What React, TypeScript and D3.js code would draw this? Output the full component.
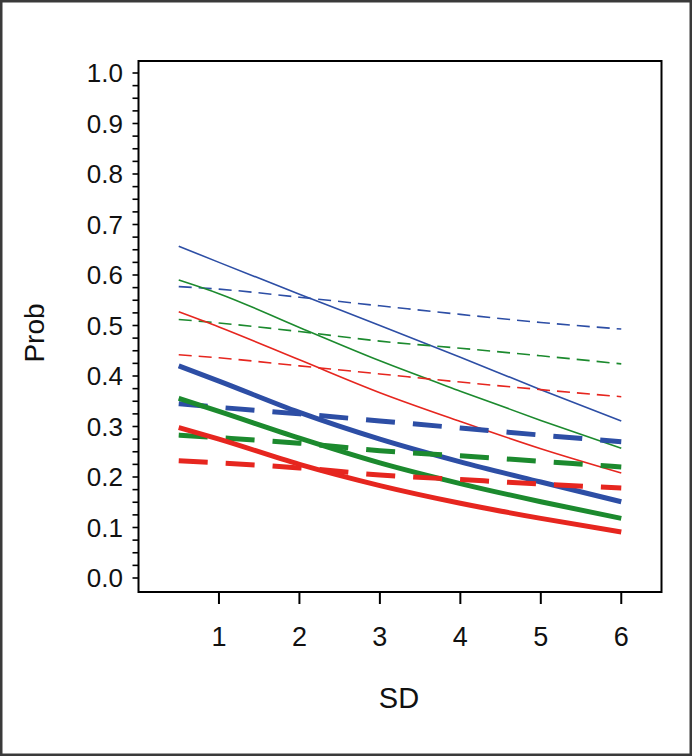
import React from "react";
import * as d3 from "d3";

const sdValues = [0.5, 1, 2, 3, 4, 5, 6];

// thin lines
const blueThinSolid = [0.657, 0.625, 0.562, 0.5, 0.437, 0.373, 0.311];
const blueThinDash = [0.577, 0.572, 0.556, 0.539, 0.522, 0.506, 0.493];
const greenThinSolid = [0.59, 0.563, 0.496, 0.43, 0.37, 0.312, 0.257];
const greenThinDash = [0.512, 0.505, 0.488, 0.469, 0.455, 0.44, 0.424];
const redThinSolid = [0.527, 0.497, 0.432, 0.367, 0.31, 0.256, 0.208];
const redThinDash = [0.442, 0.436, 0.42, 0.404, 0.388, 0.373, 0.359];

// thick lines
const blueThickSolid = [0.42, 0.39, 0.328, 0.275, 0.23, 0.19, 0.151];
const blueThickDash = [0.345, 0.338, 0.325, 0.311, 0.297, 0.283, 0.27];
const greenThickSolid = [0.356, 0.33, 0.277, 0.228, 0.187, 0.151, 0.118];
const greenThickDash = [0.283, 0.278, 0.267, 0.252, 0.242, 0.231, 0.22];
const redThickSolid = [0.298, 0.275, 0.225, 0.183, 0.148, 0.118, 0.091];
const redThickDash = [0.232, 0.228, 0.218, 0.204, 0.195, 0.186, 0.178];

const xTicks = [1, 2, 3, 4, 5, 6];
const yTicks = [0, 0.1, 0.2, 0.3, 0.4, 0.5, 0.6, 0.7, 0.8, 0.9, 1.0];
const yMinorTicks = d3.range(0, 41).map((i) => i * 0.025);

const BLUE = "#2d4ea5";
const GREEN = "#1c8a2e";
const RED = "#e6261f";

const series = [
  { values: blueThinSolid, color: BLUE, thick: false, dashed: false },
  { values: blueThinDash, color: BLUE, thick: false, dashed: true },
  { values: greenThinSolid, color: GREEN, thick: false, dashed: false },
  { values: greenThinDash, color: GREEN, thick: false, dashed: true },
  { values: redThinSolid, color: RED, thick: false, dashed: false },
  { values: redThinDash, color: RED, thick: false, dashed: true },
  { values: blueThickSolid, color: BLUE, thick: true, dashed: false },
  { values: blueThickDash, color: BLUE, thick: true, dashed: true },
  { values: greenThickSolid, color: GREEN, thick: true, dashed: false },
  { values: greenThickDash, color: GREEN, thick: true, dashed: true },
  { values: redThickSolid, color: RED, thick: true, dashed: false },
  { values: redThickDash, color: RED, thick: true, dashed: true },
];

export default function App() {
  const W = 692;
  const H = 756;
  const x = d3.scaleLinear().domain([0, 6.5]).range([138.5, 661.5]);
  const y = d3.scaleLinear().domain([0, 1]).range([578, 73]);
  const boxTop = 61;
  const boxBottom = 592;
  const font = "'Liberation Sans', Arial, sans-serif";

  const line = d3
    .line<[number, number]>()
    .x((d) => x(d[0]))
    .y((d) => y(d[1]))
    .curve(d3.curveMonotoneX);

  return (
    <div style={{ position: "absolute", left: 0, top: 0 }}>
      <svg width={W} height={H} style={{ display: "block" }}>
        <rect x={0} y={0} width={W} height={H} fill="#ffffff" />
        <rect x={1.25} y={1.25} width={W - 2.5} height={H - 2.5} fill="none" stroke="#3a3a3a" strokeWidth={2.5} />

        {series.map((s, i) => (
          <path
            key={i}
            d={line(sdValues.map((v, j) => [v, s.values[j]] as [number, number])) || ""}
            fill="none"
            stroke={s.color}
            strokeWidth={s.thick ? 5 : 1.6}
            strokeDasharray={s.dashed ? (s.thick ? "29,18" : "13,7") : undefined}
          />
        ))}

        <rect
          x={x(0)}
          y={boxTop}
          width={x(6.5) - x(0)}
          height={boxBottom - boxTop}
          fill="none"
          stroke="#000"
          strokeWidth={2}
        />

        {yMinorTicks.map((t, i) => (
          <line key={"ym" + i} x1={x(0) - 6} x2={x(0)} y1={y(t)} y2={y(t)} stroke="#000" strokeWidth={1.6} />
        ))}
        {yTicks.map((t, i) => (
          <text
            key={"yl" + i}
            x={123}
            y={y(t)}
            dy="0.36em"
            textAnchor="end"
            fontFamily={font}
            fontSize={26}
            fill="#111"
          >
            {t.toFixed(1)}
          </text>
        ))}

        {xTicks.map((t, i) => (
          <g key={"xt" + i}>
            <line x1={x(t)} x2={x(t)} y1={boxBottom} y2={boxBottom + 12} stroke="#000" strokeWidth={2} />
            <text x={x(t)} y={646} textAnchor="middle" fontFamily={font} fontSize={27} fill="#111">
              {t}
            </text>
          </g>
        ))}

        <text x={399} y={708} textAnchor="middle" fontFamily={font} fontSize={29} fill="#111">
          SD
        </text>
        <text
          transform="translate(44,333) rotate(-90)"
          textAnchor="middle"
          fontFamily={font}
          fontSize={28}
          fill="#111"
        >
          Prob
        </text>
      </svg>
    </div>
  );
}
